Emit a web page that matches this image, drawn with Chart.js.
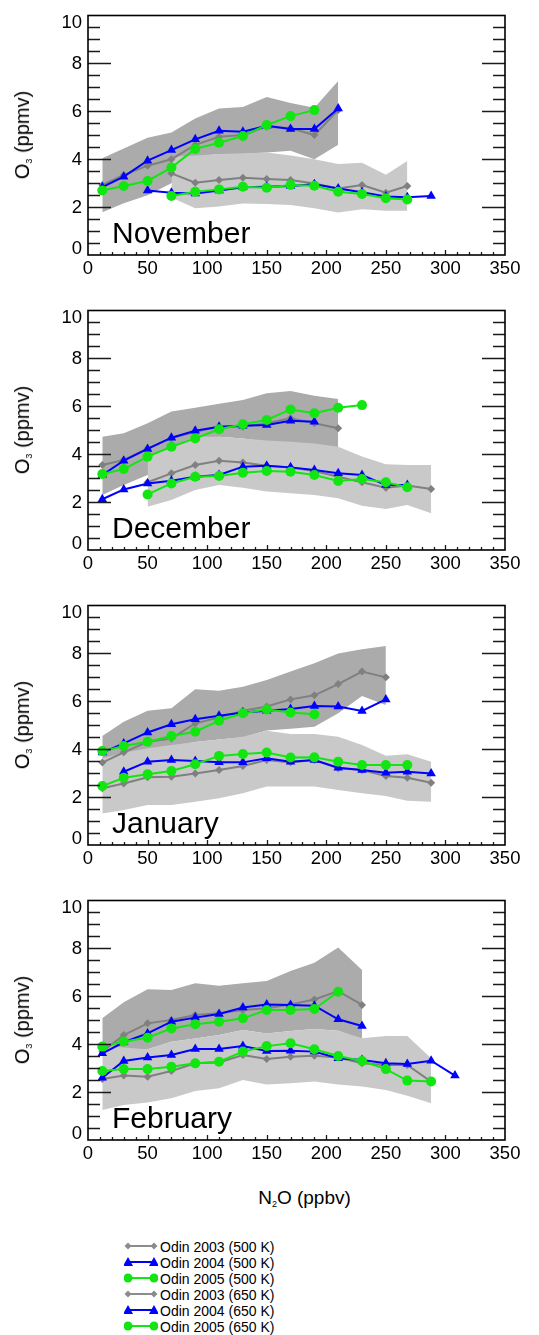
<!DOCTYPE html>
<html>
<head>
<meta charset="utf-8">
<script src="https://cdn.jsdelivr.net/npm/chart.js@4.4.1/dist/chart.umd.min.js"></script>
<style>
  html, body { margin: 0; padding: 0; background: #fff; }
  body { width: 539px; height: 1335px; position: relative; overflow: hidden;
         font-family: "Liberation Sans", Arial, sans-serif; color: #000; }
  .panel { position: absolute; left: 0; width: 539px; height: 295px; }
  .ytitle { position: absolute; left: 22px; width: 0; height: 0; }
  .ytitle span.t { position: absolute; white-space: nowrap; font-size: 20px; line-height: 1;
          transform: translate(-50%, -50%) rotate(-90deg); }
  .month { position: absolute; left: 112px; font-size: 30px; line-height: 1; white-space: nowrap; }
  sub.s { font-size: 9px; vertical-align: -3px; line-height: 0; }
  .xtitle { position: absolute; left: 0; width: 539px; text-align: center; top: 1188px;
            font-size: 19px; line-height: 1; padding-left: 70px; box-sizing: border-box; }
  .legend { position: absolute; left: 124px; top: 1238px; font-size: 14px; line-height: 1; }
  .legend .row { position: relative; height: 16.1px; }
  .legend svg { position: absolute; left: 0; top: 1px; }
  .legend .lab { position: absolute; left: 36px; top: 2px; white-space: nowrap; }
</style>
</head>
<body>
<script>
// ---------- DATA ----------
// N2O bin centres (ppbv)
const N2O_BINS = [12, 30, 50, 70, 90, 110, 130, 150, 170, 190, 210, 230, 250, 268, 288, 308];
const MONTHS = ["November", "December", "January", "February"];
const X_TICKS = [0, 50, 100, 150, 200, 250, 300, 350];
const Y_TICKS = [0, 2, 4, 6, 8, 10];
const SERIES_LABELS = ["Odin 2003 (500 K)", "Odin 2004 (500 K)", "Odin 2005 (500 K)",
                       "Odin 2003 (650 K)", "Odin 2004 (650 K)", "Odin 2005 (650 K)"];
const _ = null;

// November
const NOV_2003_650 = [2.92,3.34,3.73,4.00,4.60,4.94,5.01,5.36,5.29,5.01,6.05,_,_,_,_,_];
const NOV_2004_650 = [2.83,3.27,3.94,4.38,4.83,5.19,5.15,5.40,5.26,5.26,6.12,_,_,_,_,_];
const NOV_2005_650 = [2.69,2.88,3.09,3.65,4.43,4.69,4.97,5.43,5.80,6.05,_,_,_,_,_,_];
const NOV_2003_500 = [_,_,_,3.41,3.02,3.13,3.23,3.17,3.13,2.99,2.78,2.92,2.60,2.88,_,_];
const NOV_2004_500 = [_,_,2.69,2.60,2.57,2.69,2.83,2.85,2.88,2.95,2.78,2.62,2.44,2.41,2.46,_];
const NOV_2005_500 = [_,_,_,2.46,2.64,2.74,2.85,2.81,2.92,2.89,2.64,2.55,2.37,2.32,_,_];
const NOV_650_HI = [4.04,4.45,4.90,5.12,5.70,6.12,6.18,6.60,6.35,6.15,7.27,_,_,_,_,_];
const NOV_650_LO = [1.79,2.16,2.50,3.00,4.10,4.22,4.22,4.28,4.35,4.00,4.60,_,_,_,_,_];
const NOV_500_HI = [_,_,_,4.10,4.15,4.22,4.25,4.28,4.15,4.00,3.80,3.85,3.35,3.92,_,_];
const NOV_500_LO = [_,_,_,2.40,1.95,2.02,2.15,2.13,2.09,1.95,1.77,1.91,1.85,1.85,_,_];

// December
const DEC_2003_650 = [3.55,3.76,4.24,4.66,4.94,5.15,5.15,5.29,5.50,5.29,5.08,_,_,_,_,_];
const DEC_2004_650 = [3.13,3.73,4.22,4.69,4.98,5.15,5.19,5.22,5.40,5.36,_,_,_,_,_,_];
const DEC_2005_650 = [3.17,3.38,3.90,4.31,4.66,5.04,5.25,5.43,5.87,5.71,5.94,6.05,_,_,_,_];
const DEC_2003_500 = [_,_,2.83,3.20,3.55,3.73,3.65,3.52,3.44,3.30,3.06,2.83,2.60,2.69,2.55,_];
const DEC_2004_500 = [2.12,2.53,2.78,2.89,3.06,3.13,3.48,3.52,3.45,3.34,3.20,3.13,2.71,2.71,_,_];
const DEC_2005_500 = [_,_,2.32,2.78,3.06,3.09,3.23,3.30,3.27,3.13,2.88,2.96,2.83,2.62,_,_];
const DEC_650_HI = [4.73,4.87,5.29,5.78,5.94,6.11,6.26,6.54,6.64,6.44,6.30,_,_,_,_,_];
const DEC_650_LO = [2.30,2.71,3.13,3.80,4.40,4.73,4.66,4.52,4.45,4.38,4.20,_,_,_,_,_];
const DEC_500_HI = [_,_,3.85,4.30,4.73,4.73,4.66,4.57,4.52,4.45,4.31,3.90,3.58,3.55,3.55,_];
const DEC_500_LO = [_,_,1.81,2.09,2.51,2.71,2.60,2.44,2.37,2.30,2.16,1.85,1.71,1.88,1.53,_];

// January
const JAN_2003_650 = [3.44,3.87,4.31,4.45,5.08,5.32,5.61,5.78,6.08,6.25,6.72,7.24,7.00,_,_,_];
const JAN_2004_650 = [3.86,4.24,4.70,5.04,5.25,5.40,5.53,5.61,5.68,5.80,5.78,5.60,6.08,_,_,_];
const JAN_2005_650 = [3.92,4.13,4.31,4.55,4.73,5.19,5.50,5.66,5.53,5.46,_,_,_,_,_,_];
const JAN_2003_500 = [2.37,2.57,2.83,2.85,2.99,3.13,3.30,3.55,3.45,3.55,3.20,3.13,2.88,2.81,2.60,_];
const JAN_2004_500 = [_,3.06,3.48,3.55,3.51,3.45,3.45,3.62,3.48,3.55,3.23,3.13,3.02,3.06,2.99,_];
const JAN_2005_500 = [2.46,2.81,2.95,3.09,3.37,3.72,3.80,3.86,3.65,3.66,3.48,3.34,3.34,3.34,_,_];
const JAN_650_HI = [4.55,5.15,5.61,5.71,6.50,6.44,6.61,6.89,7.24,7.59,8.00,8.17,8.31,_,_,_];
const JAN_650_LO = [3.40,3.70,3.95,4.10,4.30,4.40,4.50,4.78,4.85,4.94,5.50,6.22,5.85,_,_,_];
const JAN_500_HI = [3.62,3.85,4.04,4.18,4.30,4.41,4.52,4.77,4.63,4.63,4.52,4.18,3.73,3.79,3.48,_];
const JAN_500_LO = [1.32,1.46,1.67,1.67,1.81,1.95,2.16,2.44,2.44,2.44,2.30,2.16,2.05,1.85,1.81,_];

// February
const FEB_2003_650 = [3.69,4.38,4.87,5.01,5.22,5.29,5.43,5.50,5.66,5.87,6.22,5.64,_,_,_,_];
const FEB_2004_650 = [3.62,4.08,4.45,4.94,5.11,5.26,5.53,5.66,5.64,5.61,5.04,4.76,_,_,_,_];
const FEB_2005_650 = [3.90,4.11,4.27,4.66,4.83,4.94,5.08,5.43,5.43,5.47,6.19,_,_,_,_,_];
const FEB_2003_500 = [2.55,2.69,2.64,2.88,3.20,3.24,3.55,3.38,3.48,3.52,3.44,3.20,3.13,3.13,2.44,_];
const FEB_2004_500 = [2.60,3.30,3.44,3.55,3.80,3.80,3.92,3.72,3.73,3.69,3.41,3.34,3.20,3.17,3.31,2.69];
const FEB_2005_500 = [2.88,2.96,2.96,3.06,3.20,3.27,3.69,3.92,4.04,3.79,3.51,3.30,2.96,2.48,2.44,_];
const FEB_650_HI = [5.08,5.75,6.29,6.26,6.54,6.44,6.54,6.64,7.06,7.40,8.04,7.10,_,_,_,_];
const FEB_650_LO = [3.80,3.79,3.79,4.10,4.24,4.38,4.59,4.45,4.55,4.63,4.56,4.22,_,_,_,_];
const FEB_500_HI = [3.97,3.86,3.79,4.10,4.24,4.38,4.59,4.45,4.55,4.63,4.56,4.25,4.34,4.34,3.41,_];
const FEB_500_LO = [1.25,1.46,1.57,1.74,2.05,2.16,2.51,2.32,2.37,2.44,2.32,2.23,2.09,1.85,1.53,_];

// ---------- STYLE ----------
const GRAY = '#808080', BLUE = '#0000ff', GREEN = '#11e611';
const BAND_DARK = '#ababab', BAND_LIGHT = '#c9c9c9';
// draw order: lower value is painted later (on top): green over blue over gray
const STYLES = [
  { color: GRAY,  pointStyle: 'rectRot',  radius: 4,   order: 0.3 },
  { color: BLUE,  pointStyle: 'triangle', radius: 5.5, order: 0.2 },
  { color: GREEN, pointStyle: 'circle',   radius: 5,   order: 0.1 }
];

const PANELS = [
  { month: MONTHS[0], s500: [NOV_2003_500, NOV_2004_500, NOV_2005_500], s650: [NOV_2003_650, NOV_2004_650, NOV_2005_650],
    b650: [NOV_650_HI, NOV_650_LO], b500: [NOV_500_HI, NOV_500_LO] },
  { month: MONTHS[1], s500: [DEC_2003_500, DEC_2004_500, DEC_2005_500], s650: [DEC_2003_650, DEC_2004_650, DEC_2005_650],
    b650: [DEC_650_HI, DEC_650_LO], b500: [DEC_500_HI, DEC_500_LO] },
  { month: MONTHS[2], s500: [JAN_2003_500, JAN_2004_500, JAN_2005_500], s650: [JAN_2003_650, JAN_2004_650, JAN_2005_650],
    b650: [JAN_650_HI, JAN_650_LO], b500: [JAN_500_HI, JAN_500_LO] },
  { month: MONTHS[3], s500: [FEB_2003_500, FEB_2004_500, FEB_2005_500], s650: [FEB_2003_650, FEB_2004_650, FEB_2005_650],
    b650: [FEB_650_HI, FEB_650_LO], b500: [FEB_500_HI, FEB_500_LO] }
];

function pts(arr) {
  const out = [];
  arr.forEach((v, i) => { if (v !== null) out.push({ x: N2O_BINS[i], y: v }); });
  return out;
}

const FONT = '"Liberation Sans", Arial, Helvetica, sans-serif';
Chart.defaults.font.family = FONT;

const frameTicks = {
  id: 'frameTicks',
  afterDatasetsDraw(chart) {
    const { ctx, chartArea: { left, right, top, bottom }, scales: { x, y } } = chart;
    ctx.save();
    ctx.strokeStyle = '#1a1a1a';
    ctx.lineWidth = 1.3;
    ctx.beginPath();
    for (let v = 0.5; v < 10; v += 0.5) {
      const py = Math.round(y.getPixelForValue(v)) + 0.5;
      const len = (v % 2 === 0) ? 23 : 12;
      ctx.moveTo(left, py); ctx.lineTo(left + len, py);
      ctx.moveTo(right - len, py); ctx.lineTo(right, py);
    }
    for (let v = 10; v < 350; v += 10) {
      const px = Math.round(x.getPixelForValue(v)) + 0.5;
      const len = (v % 50 === 0) ? 5 : 3;
      ctx.moveTo(px, bottom); ctx.lineTo(px, bottom - len);
    }
    ctx.stroke();
    ctx.lineWidth = 1.6;
    ctx.strokeStyle = '#000';
    ctx.strokeRect(left, top, right - left, bottom - top);
    // y tick labels, kept inside the axis range at both ends
    ctx.fillStyle = '#000';
    ctx.font = '18.5px ' + FONT;
    ctx.textAlign = 'right';
    ctx.textBaseline = 'middle';
    Y_TICKS.forEach(v => {
      let py = y.getPixelForValue(v);
      py = Math.min(Math.max(py, top + 6.5), bottom - 6.5);
      ctx.fillText(String(v), left - 6, py + 0.5);
    });
    ctx.restore();
  }
};

function lineDataset(arr, st, label) {
  return {
    label, data: pts(arr), order: st.order,
    borderColor: st.color, backgroundColor: st.color, borderWidth: 2,
    pointStyle: st.pointStyle, pointRadius: st.radius, pointBorderWidth: 0,
    pointBackgroundColor: st.color, pointBorderColor: st.color,
    tension: 0, fill: false
  };
}
function bandDatasets(pair, color, order) {
  return [
    { label: 'band-hi', data: pts(pair[0]), order, borderWidth: 0, pointRadius: 0,
      borderColor: 'rgba(0,0,0,0)', backgroundColor: color, fill: '+1', tension: 0 },
    { label: 'band-lo', data: pts(pair[1]), order, borderWidth: 0, pointRadius: 0,
      borderColor: 'rgba(0,0,0,0)', backgroundColor: color, fill: false, tension: 0 }
  ];
}

PANELS.forEach((p, k) => {
  const top = k * 295;
  const div = document.createElement('div');
  div.className = 'panel';
  div.style.top = top + 'px';
  const cv = document.createElement('canvas');
  div.appendChild(cv);
  document.body.appendChild(div);

  const yt = document.createElement('div');
  yt.className = 'ytitle';
  yt.style.top = (top + 135) + 'px';
  yt.innerHTML = '<span class="t">O<sub class="s">3</sub> (ppmv)</span>';
  document.body.appendChild(yt);

  const datasets = [];
  p.s650.forEach((arr, i) => datasets.push(lineDataset(arr, STYLES[i], SERIES_LABELS[i + 3])));
  p.s500.forEach((arr, i) => datasets.push(lineDataset(arr, STYLES[i], SERIES_LABELS[i])));
  datasets.push(...bandDatasets(p.b500, BAND_LIGHT, 1));
  datasets.push(...bandDatasets(p.b650, BAND_DARK, 2));

  new Chart(cv, {
    type: 'line',
    data: { datasets },
    options: {
      responsive: true, maintainAspectRatio: false, animation: false, devicePixelRatio: 1,
      layout: { padding: { top: 15.5, right: 34, left: 0, bottom: 0 } },
      plugins: { legend: { display: false }, tooltip: { enabled: false }, title: { display: false } },
      scales: {
        x: {
          type: 'linear', min: 0, max: 350,
          afterBuildTicks: s => { s.ticks = X_TICKS.map(v => ({ value: v })); },
          ticks: { color: '#000', font: { size: 18.5 }, padding: 3, maxRotation: 0, autoSkip: false },
          grid: { display: false, drawTicks: false }, border: { display: false },
          afterFit: s => { s.height = 40; }
        },
        y: {
          type: 'linear', min: 0, max: 10,
          afterBuildTicks: s => { s.ticks = Y_TICKS.map(v => ({ value: v })); },
          ticks: { display: false },
          grid: { display: false, drawTicks: false }, border: { display: false },
          afterFit: s => { s.width = 88; }
        }
      }
    },
    plugins: [frameTicks]
  });

  const m = document.createElement('div');
  m.className = 'month';
  m.style.top = (top + 217.5) + 'px';
  m.textContent = p.month;
  document.body.appendChild(m);
});

// x-axis title
const xt = document.createElement('div');
xt.className = 'xtitle';
xt.innerHTML = 'N<sub class="s">2</sub>O (ppbv)';
document.body.appendChild(xt);

// legend
const lg = document.createElement('div');
lg.className = 'legend';
function marker(st, cx, cy) {
  if (st.pointStyle === 'circle') return `<circle cx="${cx}" cy="${cy}" r="4.5" fill="${st.color}"/>`;
  if (st.pointStyle === 'triangle') return `<polygon points="${cx-5},${cy+4} ${cx+5},${cy+4} ${cx},${cy-5}" fill="${st.color}"/>`;
  return `<polygon points="${cx},${cy-3.5} ${cx+3.5},${cy} ${cx},${cy+3.5} ${cx-3.5},${cy}" fill="${st.color}"/>`;
}
SERIES_LABELS.forEach((lab, i) => {
  const st = STYLES[i % 3];
  const light = (st.color === GRAY) ? '#8c8c8c' : st.color;
  const s = { ...st, color: light };
  const row = document.createElement('div');
  row.className = 'row';
  row.innerHTML = `<svg width="34" height="14" viewBox="0 0 34 14">
      <line x1="4" y1="7" x2="30" y2="7" stroke="${s.color}" stroke-width="2"/>
      ${marker(s, 4, 7)}${marker(s, 30, 7)}</svg><span class="lab">${lab}</span>`;
  lg.appendChild(row);
});
document.body.appendChild(lg);
</script>
</body>
</html>
